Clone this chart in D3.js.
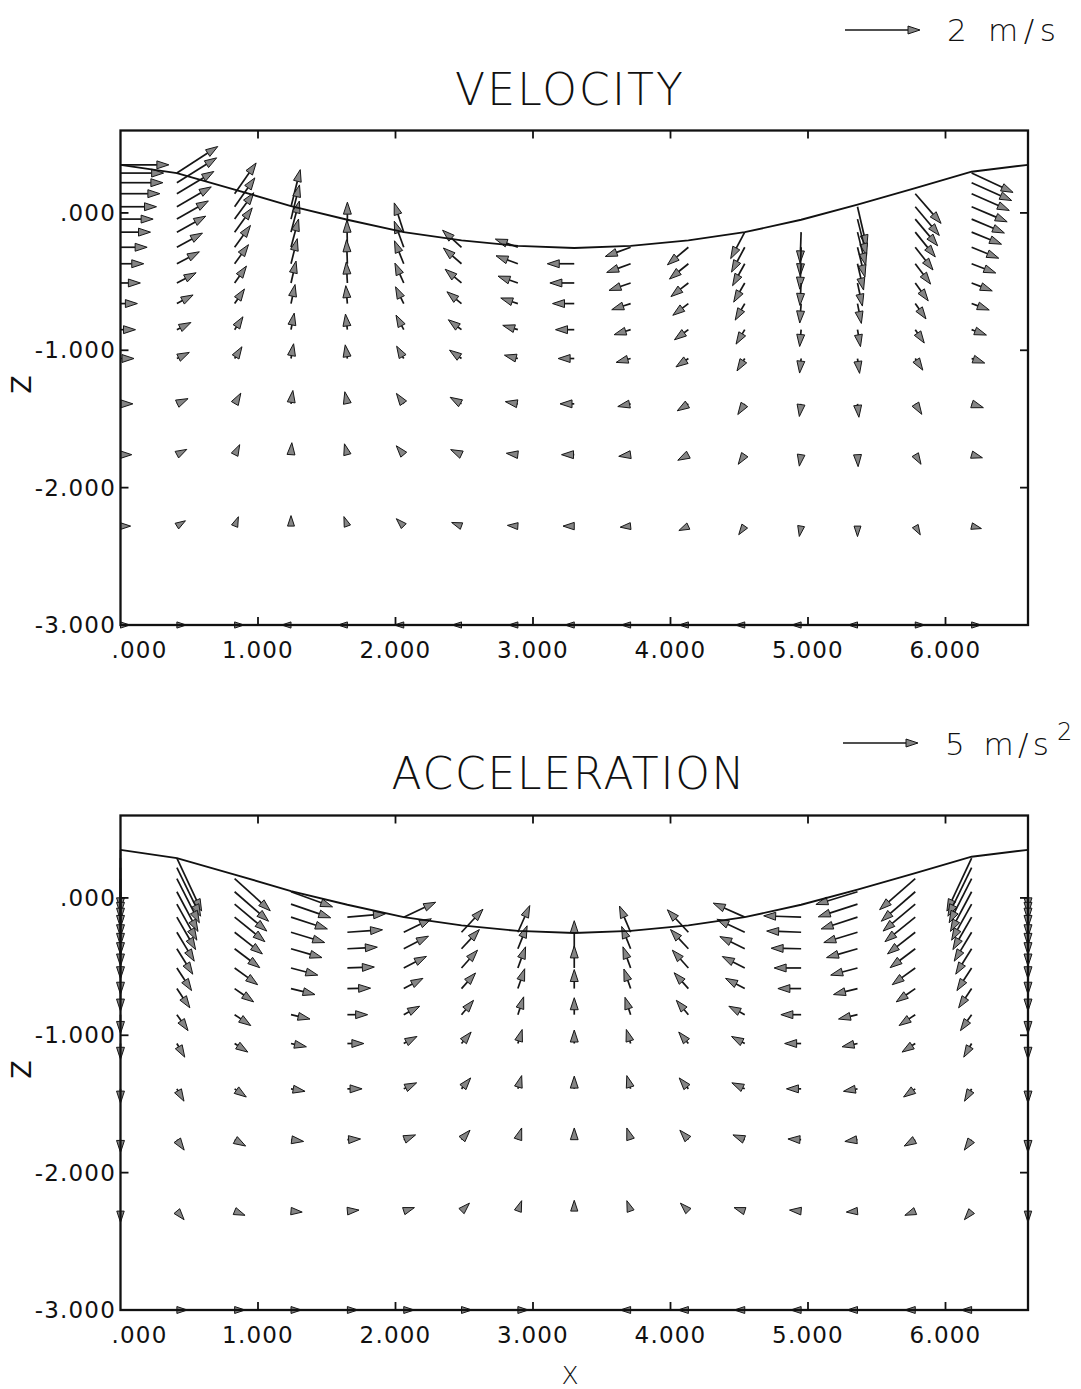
<!DOCTYPE html>
<html>
<head>
<meta charset="utf-8">
<script src="https://cdn.jsdelivr.net/npm/d3@7"></script>
<style>
body { margin: 0; background: #fff; }
text { font-family: "DejaVu Sans", sans-serif; fill: #111; }
</style>
</head>
<body>
<script>
var width = 1081;
var height = 1389;

// grid: column positions (m), fixed z levels (m), free surface at each column
var colX = [0, 0.41, 0.83, 1.24, 1.65, 2.06, 2.48, 2.89, 3.30, 3.71, 4.13, 4.54, 4.95, 5.36, 5.78, 6.19, 6.60];
var levelZ = [0.35, 0.29, 0.22, 0.14, 0.045, -0.045, -0.14, -0.25, -0.37, -0.51, -0.66, -0.85, -1.06, -1.39, -1.76, -2.28, -3.0];
var surfaceZ = [0.35, 0.29, 0.17, 0.05, -0.05, -0.14, -0.20, -0.24, -0.255, -0.24, -0.20, -0.14, -0.05, 0.06, 0.18, 0.30, 0.35];
// first level index that lies under the surface in each column
var topLevel = [0, 1, 3, 4, 6, 6, 7, 7, 8, 7, 7, 6, 6, 4, 3, 1, 0];

var xTicks = [0, 1, 2, 3, 4, 5, 6];
var xTickLabels = [".000", "1.000", "2.000", "3.000", "4.000", "5.000", "6.000"];
var zTicks = [0, -1, -2, -3];
var zTickLabels = [".000", "-1.000", "-2.000", "-3.000"];

// velocity (m/s) and direction (deg, 0 = +x, 90 = up), per column from top point down
var velSpeed = [
    [1.29, 1.15, 1.13, 1.05, 0.96, 0.87, 0.80, 0.71, 0.62, 0.53, 0.45, 0.40, 0.36, 0.33, 0.30, 0.27, 0.25],
    [1.30, 1.25, 1.15, 1.06, 0.97, 0.88, 0.78, 0.68, 0.58, 0.49, 0.42, 0.37, 0.33, 0.30, 0.27, 0.25],
    [1.00, 0.94, 0.87, 0.80, 0.72, 0.63, 0.55, 0.47, 0.41, 0.37, 0.33, 0.30, 0.27, 0.25],
    [1.02, 0.94, 0.86, 0.78, 0.69, 0.60, 0.52, 0.45, 0.40, 0.36, 0.32, 0.28, 0.25],
    [0.80, 0.72, 0.64, 0.56, 0.48, 0.42, 0.37, 0.33, 0.30, 0.27, 0.25],
    [0.82, 0.74, 0.66, 0.58, 0.50, 0.44, 0.38, 0.34, 0.31, 0.28, 0.25],
    [0.68, 0.64, 0.57, 0.50, 0.44, 0.39, 0.35, 0.32, 0.28, 0.25],
    [0.64, 0.62, 0.56, 0.48, 0.42, 0.37, 0.34, 0.31, 0.28, 0.25],
    [0.72, 0.65, 0.58, 0.50, 0.43, 0.38, 0.34, 0.30, 0.25],
    [0.72, 0.68, 0.61, 0.53, 0.46, 0.40, 0.35, 0.32, 0.28, 0.25],
    [0.73, 0.65, 0.59, 0.52, 0.46, 0.40, 0.35, 0.32, 0.28, 0.25],
    [0.80, 0.75, 0.67, 0.59, 0.51, 0.45, 0.39, 0.34, 0.31, 0.28, 0.25],
    [0.82, 0.76, 0.68, 0.60, 0.52, 0.45, 0.39, 0.34, 0.31, 0.28, 0.25],
    [1.10, 1.00, 0.91, 0.82, 0.72, 0.63, 0.54, 0.46, 0.40, 0.36, 0.32, 0.28, 0.25],
    [1.05, 1.00, 0.93, 0.85, 0.77, 0.68, 0.59, 0.50, 0.43, 0.37, 0.33, 0.30, 0.27, 0.25],
    [1.22, 1.17, 1.10, 1.03, 0.95, 0.86, 0.78, 0.69, 0.59, 0.50, 0.42, 0.37, 0.33, 0.30, 0.27, 0.25]
];
var velAngle = [
    [0, 0, 0, 0, 0, 0, 0, 0, 0, 0, 0, 0, 0, 0, 0, 0, 0],
    [33, 32, 31, 30, 30, 29, 29, 28, 28, 28, 27, 26, 25, 28, 32, 0],
    [55, 55, 54, 54, 54, 54, 55, 56, 57, 58, 60, 63, 68, 0],
    [76, 76, 75, 75, 76, 77, 78, 79, 80, 82, 86, 90, 180],
    [90, 91, 92, 93, 95, 97, 99, 102, 105, 110, 180],
    [108, 110, 112, 114, 116, 118, 120, 125, 130, 135, 180],
    [138, 139, 140, 141, 143, 145, 150, 155, 160, 180],
    [160, 160, 161, 162, 164, 166, 170, 173, 176, 180],
    [180, 180, 180, 180, 180, 180, 180, 180, 180],
    [200, 200, 199, 198, 197, 195, 192, 188, 186, 180],
    [220, 219, 218, 217, 216, 214, 212, 208, 205, 180],
    [242, 242, 241, 240, 240, 239, 238, 237, 236, 235, 180],
    [268, 268, 267, 267, 266, 265, 264, 262, 261, 260, 180],
    [283, 284, 284, 284, 283, 282, 281, 280, 278, 276, 273, 270, 180],
    [311, 310, 310, 309, 308, 307, 306, 305, 304, 303, 302, 301, 300, 0],
    [335, 336, 336, 337, 337, 338, 338, 339, 339, 340, 340, 341, 342, 344, 346, 0]
];

// acceleration (m/s2) and direction (deg)
var accSpeed = [
    [4.0, 3.75, 3.5, 3.25, 3.0, 2.75, 2.5, 2.25, 2.0, 1.75, 1.5, 1.25, 1.05, 0.95, 0.85, 0.75, 0],
    [3.9, 3.6, 3.3, 3.0, 2.75, 2.5, 2.25, 2.0, 1.8, 1.55, 1.3, 1.05, 0.95, 0.85, 0.75, 0.7],
    [3.2, 3.0, 2.8, 2.6, 2.35, 2.1, 1.9, 1.55, 1.3, 1.05, 0.95, 0.85, 0.75, 0.7],
    [2.95, 2.8, 2.55, 2.35, 2.15, 1.85, 1.65, 1.3, 1.05, 0.95, 0.85, 0.75, 0.7],
    [2.55, 2.35, 2.0, 1.8, 1.55, 1.35, 1.1, 0.98, 0.88, 0.78, 0.7],
    [2.35, 2.05, 1.85, 1.7, 1.45, 1.2, 1.0, 0.95, 0.85, 0.75, 0.7],
    [2.1, 1.75, 1.6, 1.4, 1.25, 1.0, 0.95, 0.85, 0.75, 0.7],
    [1.95, 1.65, 1.5, 1.4, 1.25, 0.98, 0.92, 0.82, 0.74, 0.7],
    [1.87, 1.47, 1.27, 1.13, 0.9, 0.85, 0.78, 0.72, 0],
    [1.9, 1.6, 1.5, 1.38, 1.22, 0.98, 0.92, 0.82, 0.74, 0.7],
    [2.05, 1.75, 1.6, 1.42, 1.25, 1.0, 0.95, 0.85, 0.75, 0.7],
    [2.3, 2.05, 1.85, 1.68, 1.45, 1.2, 1.0, 0.95, 0.85, 0.75, 0.7],
    [2.5, 2.3, 2.0, 1.8, 1.55, 1.35, 1.1, 0.98, 0.88, 0.78, 0.7],
    [2.9, 2.75, 2.55, 2.35, 2.15, 1.85, 1.65, 1.3, 1.05, 0.95, 0.85, 0.75, 0.7],
    [3.15, 3.0, 2.8, 2.6, 2.35, 2.1, 1.9, 1.55, 1.3, 1.05, 0.95, 0.85, 0.75, 0.7],
    [3.9, 3.6, 3.3, 3.0, 2.75, 2.5, 2.25, 2.0, 1.8, 1.55, 1.3, 1.05, 0.95, 0.85, 0.75, 0.7],
    [4.0, 3.75, 3.5, 3.25, 3.0, 2.75, 2.5, 2.25, 2.0, 1.75, 1.5, 1.25, 1.05, 0.95, 0.85, 0.75, 0]
];
var accAngle = [
    [270, 270, 270, 270, 270, 270, 270, 270, 270, 270, 270, 270, 270, 270, 270, 270, 270],
    [295, 296, 297, 298, 299, 300, 301, 302, 303, 304, 305, 300, 300, 305, 310, 0],
    [318, 319, 320, 321, 322, 323, 324, 325, 326, 327, 325, 330, 338, 0],
    [340, 341, 342, 343, 344, 345, 346, 347, 348, 350, 352, 355, 0],
    [5, 4, 3, 2, 1, 0, 0, 0, 3, 5, 0],
    [25, 26, 27, 27, 28, 28, 28, 25, 22, 18, 0],
    [47, 47, 48, 48, 50, 50, 50, 48, 45, 0],
    [66, 68, 70, 71, 72, 73, 74, 72, 70, 0],
    [90, 90, 90, 90, 90, 90, 90, 90, 90],
    [113, 112, 110, 109, 108, 107, 106, 108, 110, 180],
    [133, 133, 132, 132, 130, 130, 130, 132, 135, 180],
    [156, 155, 154, 153, 152, 152, 152, 155, 158, 162, 180],
    [178, 178, 179, 180, 180, 180, 180, 180, 177, 175, 180],
    [197, 198, 198, 197, 196, 195, 194, 193, 192, 190, 188, 185, 180],
    [221, 221, 220, 219, 218, 217, 216, 215, 214, 213, 215, 210, 202, 180],
    [245, 244, 243, 242, 241, 240, 239, 238, 237, 236, 235, 240, 240, 235, 230, 180],
    [270, 270, 270, 270, 270, 270, 270, 270, 270, 270, 270, 270, 270, 270, 270, 270, 270]
];

var svg = d3.select("body").append("svg")
    .attr("width", width)
    .attr("height", height);

var xScale = d3.scaleLinear().domain([0, 6.6]).range([120.5, 1028]);
var velLen = d3.scaleLinear().domain([0, 2]).range([0, 75]);
var accLen = d3.scaleLinear().domain([0, 5]).range([0, 75]);

function arrowParts(x0, y0, len, ang) {
    var a = ang * Math.PI / 180;
    var dx = Math.cos(a), dy = -Math.sin(a);
    var x1 = x0 + dx * len, y1 = y0 + dy * len;
    var h = Math.min(12, len), w = h * 0.33;
    var bx = x1 - dx * h, by = y1 - dy * h;
    return {
        line: [x0, y0, bx, by],
        head: "M" + x1 + "," + y1 + "L" + (bx - dy * w) + "," + (by + dx * w) +
            "L" + (bx + dy * w) + "," + (by - dx * w) + "Z"
    };
}

function drawArrows(g, data) {
    var sel = g.selectAll("g.vec")
        .data(data)
        .enter().append("g")
        .attr("class", "vec");
    sel.append("line")
        .attr("x1", d => d.p.line[0])
        .attr("y1", d => d.p.line[1])
        .attr("x2", d => d.p.line[2])
        .attr("y2", d => d.p.line[3])
        .attr("stroke", "#161616")
        .attr("stroke-width", 1.7);
    sel.append("path")
        .attr("d", d => d.p.head)
        .attr("fill", "#858585")
        .attr("stroke", "#161616")
        .attr("stroke-width", 1)
        .attr("stroke-linejoin", "miter");
}

function drawPanel(y0, y1, speeds, angles, lenScale) {
    var yScale = d3.scaleLinear().domain([-3, 0.6]).range([y1, y0]);
    var g = svg.append("g");

    // vectors
    var pts = [];
    speeds.forEach(function (col, c) {
        col.forEach(function (s, k) {
            if (s <= 0) return;
            var lev = topLevel[c] + k;
            pts.push({
                p: arrowParts(xScale(colX[c]), yScale(levelZ[lev]), lenScale(s), angles[c][k])
            });
        });
    });
    drawArrows(g, pts);

    // free surface
    var surf = colX.map(function (x, i) { return { x: x, z: surfaceZ[i] }; });
    g.append("path")
        .datum(surf)
        .attr("fill", "none")
        .attr("stroke", "#111")
        .attr("stroke-width", 1.9)
        .attr("d", d3.line().x(d => xScale(d.x)).y(d => yScale(d.z)));

    // frame
    g.append("rect")
        .attr("x", xScale(0)).attr("y", y0)
        .attr("width", xScale(6.6) - xScale(0)).attr("height", y1 - y0)
        .attr("fill", "none").attr("stroke", "#111").attr("stroke-width", 2.3);

    // ticks (inward on all four sides)
    xTicks.forEach(function (t) {
        if (t === 0) return;
        g.append("line").attr("x1", xScale(t)).attr("x2", xScale(t))
            .attr("y1", y1).attr("y2", y1 - 8).attr("stroke", "#111").attr("stroke-width", 1.8);
        g.append("line").attr("x1", xScale(t)).attr("x2", xScale(t))
            .attr("y1", y0).attr("y2", y0 + 8).attr("stroke", "#111").attr("stroke-width", 1.8);
    });
    zTicks.forEach(function (t) {
        if (t === -3) return;
        g.append("line").attr("x1", xScale(0)).attr("x2", xScale(0) + 8)
            .attr("y1", yScale(t)).attr("y2", yScale(t)).attr("stroke", "#111").attr("stroke-width", 1.8);
        g.append("line").attr("x1", xScale(6.6)).attr("x2", xScale(6.6) - 8)
            .attr("y1", yScale(t)).attr("y2", yScale(t)).attr("stroke", "#111").attr("stroke-width", 1.8);
    });

    // tick labels
    g.selectAll("text.xl")
        .data(xTicks)
        .enter().append("text")
        .attr("x", (d, i) => i === 0 ? xScale(d) + 19 : xScale(d))
        .attr("y", y1 + 33)
        .attr("text-anchor", "middle")
        .attr("font-size", 23)
        .attr("letter-spacing", 1.2)
        .text((d, i) => xTickLabels[i]);
    g.selectAll("text.zl")
        .data(zTicks)
        .enter().append("text")
        .attr("x", 116)
        .attr("y", d => yScale(d) + 8)
        .attr("text-anchor", "end")
        .attr("font-size", 23)
        .attr("letter-spacing", 1.2)
        .text((d, i) => zTickLabels[i]);

    // axis name Z
    g.append("text")
        .attr("transform", "translate(31," + (yScale(-1.25)) + ") rotate(-90)")
        .attr("text-anchor", "middle")
        .attr("font-size", 27)
        .text("Z");

    return yScale;
}

drawPanel(130.5, 625, velSpeed, velAngle, velLen);
drawPanel(815.5, 1310, accSpeed, accAngle, accLen);

// titles
svg.append("text")
    .attr("x", 569).attr("y", 105)
    .attr("text-anchor", "middle")
    .attr("font-size", 44).attr("font-weight", 200)
    .attr("textLength", 228).attr("lengthAdjust", "spacing")
    .text("VELOCITY");
svg.append("text")
    .attr("x", 568).attr("y", 789)
    .attr("text-anchor", "middle")
    .attr("font-size", 44).attr("font-weight", 200)
    .attr("textLength", 353).attr("lengthAdjust", "spacing")
    .text("ACCELERATION");

// scale arrows
var legVel = arrowParts(845, 30, velLen(2), 0);
var legAcc = arrowParts(843, 743, accLen(5), 0);
drawArrows(svg.append("g"), [{ p: legVel }, { p: legAcc }]);

svg.append("text")
    .attr("x", 947).attr("y", 41)
    .attr("font-size", 31).attr("font-weight", 200)
    .attr("textLength", 109).attr("lengthAdjust", "spacing")
    .text("2 m/s");
svg.append("text")
    .attr("x", 945).attr("y", 755)
    .attr("font-size", 31).attr("font-weight", 200)
    .attr("textLength", 104).attr("lengthAdjust", "spacing")
    .text("5 m/s");
svg.append("text")
    .attr("x", 1057).attr("y", 740)
    .attr("font-size", 24).attr("font-weight", 200)
    .text("2");

// axis name X
svg.append("text")
    .attr("x", 570).attr("y", 1384)
    .attr("text-anchor", "middle")
    .attr("font-size", 25).attr("font-weight", 200)
    .text("X");
</script>
</body>
</html>
